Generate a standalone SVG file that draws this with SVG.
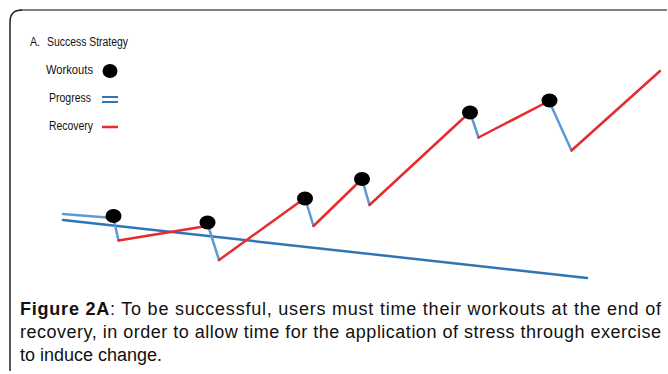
<svg xmlns="http://www.w3.org/2000/svg" width="668" height="374" viewBox="0 0 668 374">
<style>
.leg{font-family:"Liberation Sans",Arial,sans-serif;font-size:12.5px;fill:#111}
.cap{font-family:"Liberation Sans",Arial,sans-serif;font-size:18px;fill:#111}
.red{stroke:#e52b2b;stroke-width:2.5;fill:none;stroke-linecap:round}
.lb{stroke:#5b9bd5;stroke-width:2.5;fill:none;stroke-linecap:round}
.db{stroke:#2e75b6;stroke-width:2.5;fill:none;stroke-linecap:round}
.dot{fill:#000}
</style>
<rect width="668" height="374" fill="#fff"/>
<g id="frame">
<path d="M20,10 L667,10" stroke="#808080" stroke-width="2" fill="none"/>
<path d="M10,371 L10,22 Q10,10 22,10" stroke="#222" stroke-width="1.5" fill="none"/>
</g>
<g id="legend">
<text class="leg" x="30" y="46" textLength="10" lengthAdjust="spacingAndGlyphs">A.</text>
<text class="leg" x="47" y="46" textLength="81" lengthAdjust="spacingAndGlyphs">Success Strategy</text>
<text class="leg" x="46" y="74" textLength="47" lengthAdjust="spacingAndGlyphs">Workouts</text>
<ellipse class="dot" cx="110" cy="71" rx="7.5" ry="7"/>
<text class="leg" x="49" y="102" textLength="42" lengthAdjust="spacingAndGlyphs">Progress</text>
<line x1="102" y1="97" x2="118" y2="97" stroke="#2e75b6" stroke-width="2"/>
<line x1="102" y1="102" x2="118" y2="102" stroke="#2e75b6" stroke-width="2"/>
<text class="leg" x="49" y="130" textLength="44" lengthAdjust="spacingAndGlyphs">Recovery</text>
<line x1="102" y1="127" x2="118" y2="127" stroke="#e52b2b" stroke-width="2.5"/>
</g>
<g id="connectors">
<path class="db" d="M63,220 L587,278"/>
<path class="lb" d="M63,214 L113,218"/>
<path class="lb" d="M113,216 L118.5,240.5"/>
<path class="red" d="M118.5,240.5 L207,226"/>
<path class="lb" d="M207,222 L219,260"/>
<path class="red" d="M219,260 L305,198"/>
<path class="lb" d="M305,198 L313.5,226"/>
<path class="red" d="M313.5,226 L362,179"/>
<path class="lb" d="M362,179 L369.5,205"/>
<path class="red" d="M369.5,205 L470,112"/>
<path class="lb" d="M470,112 L478.5,137.5"/>
<path class="red" d="M478.5,137.5 L549,101"/>
<path class="lb" d="M549,101 L571.5,150.5"/>
<path class="red" d="M571.5,150.5 L660,71"/>
</g>
<g id="workout1"><ellipse class="dot" cx="113.5" cy="216" rx="8" ry="7"/></g>
<g id="workout2"><ellipse class="dot" cx="207.5" cy="222.5" rx="8" ry="7"/></g>
<g id="workout3"><ellipse class="dot" cx="305" cy="198.5" rx="8" ry="7"/></g>
<g id="workout4"><ellipse class="dot" cx="362" cy="179" rx="8" ry="7"/></g>
<g id="workout5"><ellipse class="dot" cx="470" cy="112.5" rx="8" ry="7"/></g>
<g id="workout6"><ellipse class="dot" cx="549.5" cy="100.5" rx="8" ry="7"/></g>
<g id="caption">
<text class="cap" x="20" y="315" textLength="641" lengthAdjust="spacing"><tspan font-weight="bold">Figure 2A</tspan>: To be successful, users must time their workouts at the end of</text>
<text class="cap" x="20" y="338" textLength="641" lengthAdjust="spacing">recovery, in order to allow time for the application of stress through exercise</text>
<text class="cap" x="20" y="361">to induce change.</text>
</g>
</svg>
